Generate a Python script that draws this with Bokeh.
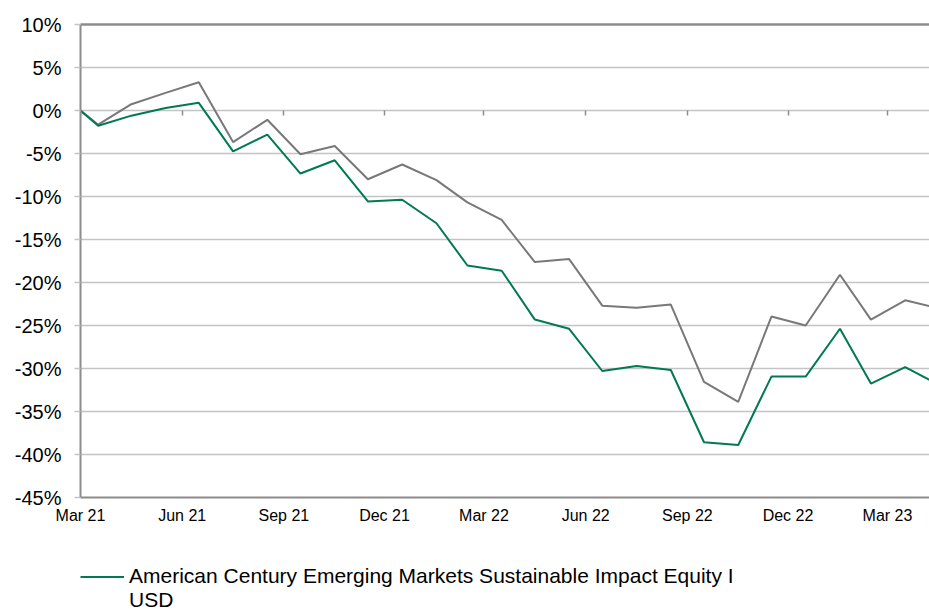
import pandas as pd
from bokeh.plotting import figure
from bokeh.layouts import column
from bokeh.models import (FixedTicker, PrintfTickFormatter,
                          Legend, LegendItem, LinearAxis, DatetimeAxis, Range1d,
                          ColumnDataSource)
from bokeh.embed import file_html
from bokeh.resources import INLINE

# ---------------- data ----------------
dates = ["2021-03-15", "2021-03-31", "2021-04-30", "2021-05-31", "2021-06-30",
         "2021-07-31", "2021-08-31", "2021-09-30", "2021-10-31", "2021-11-30",
         "2021-12-31", "2022-01-31", "2022-02-28", "2022-03-31", "2022-04-30",
         "2022-05-31", "2022-06-30", "2022-07-31", "2022-08-31", "2022-09-30",
         "2022-10-31", "2022-11-30", "2022-12-31", "2023-01-31", "2023-02-28",
         "2023-03-31", "2023-04-30"]
fund = [0.0, -1.77, -0.6, 0.3, 0.89, -4.75, -2.81, -7.33, -5.79, -10.57,
        -10.38, -13.11, -18.02, -18.63, -24.31, -25.38, -30.29, -29.71, -30.17,
        -38.58, -38.89, -30.94, -30.94, -25.38, -31.75, -29.83, -31.86]
benchmark = [0.0, -1.65, 0.73, 2.05, 3.28, -3.67, -1.08, -5.09, -4.13, -7.99,
             -6.28, -8.10, -10.68, -12.73, -17.63, -17.28, -22.69, -22.95, -22.57,
             -31.56, -33.88, -23.96, -25.0, -19.10, -24.31, -22.07, -23.0]
fund_label_lines = ["American Century Emerging Markets Sustainable Impact Equity I",
                    "USD"]
tick_dates = ["2021-03-15", "2021-06-15", "2021-09-15", "2021-12-15", "2022-03-15",
              "2022-06-15", "2022-09-15", "2022-12-15", "2023-03-15"]
tick_labels = ["Mar 21", "Jun 21", "Sep 21", "Dec 21", "Mar 22",
               "Jun 22", "Sep 22", "Dec 22", "Mar 23"]
y_ticks = [-45, -40, -35, -30, -25, -20, -15, -10, -5, 0, 5, 10]

# ---------------- styling ----------------
FONT = "Liberation Sans"
GREEN = "#007a4e"
GRAY = "#787878"
AXIS = "#8c8c8c"
GRID = "#c4c4c4"

xs = pd.to_datetime(dates)
src = ColumnDataSource(dict(x=xs, fund=fund, bench=benchmark))
tick_ms = [pd.Timestamp(d).value / 1e6 for d in tick_dates]

x_start = pd.Timestamp(dates[0])
x_end = x_start + pd.Timedelta(days=768)

p = figure(width=929, height=541, x_axis_type="datetime",
           x_range=Range1d(x_start, x_end), y_range=Range1d(-45, 10),
           output_backend="svg", toolbar_location=None,
           min_border_left=80, min_border_top=24, min_border_right=0,
           min_border_bottom=44)
p.outline_line_color = None
p.background_fill_color = "white"

# grid
p.xgrid.grid_line_color = None
p.ygrid.grid_line_color = GRID
p.ygrid.grid_line_width = 1.5
p.ygrid.ticker = FixedTicker(ticks=y_ticks)

# y axis
ya = p.yaxis[0]
ya.ticker = FixedTicker(ticks=y_ticks)
ya.formatter = PrintfTickFormatter(format="%d%%")
ya.axis_line_color = AXIS
ya.axis_line_width = 2
ya.major_tick_line_color = GRID
ya.major_tick_line_width = 1.5
ya.major_tick_out = 6
ya.major_tick_in = 0
ya.minor_tick_line_color = None
ya.major_label_text_font = FONT
ya.major_label_text_font_size = "20px"
ya.major_label_text_color = "#000000"
ya.major_label_standoff = 13

# x axis (labels at bottom)
xa = p.xaxis[0]
xa.ticker = FixedTicker(ticks=tick_ms)
xa.major_label_overrides = {t: l for t, l in zip(tick_ms, tick_labels)}
xa.axis_line_color = AXIS
xa.axis_line_width = 2
xa.major_tick_line_color = None
xa.major_tick_out = 0
xa.major_tick_in = 0
xa.minor_tick_line_color = None
xa.major_label_text_font = FONT
xa.major_label_text_font_size = "16px"
xa.major_label_text_color = "#000000"
xa.major_label_standoff = 9

# tick marks along the 0% line
zaxis = DatetimeAxis(fixed_location=0, ticker=FixedTicker(ticks=tick_ms),
                     axis_line_color=None, major_tick_in=0, major_tick_out=5,
                     major_tick_line_color=AXIS, major_tick_line_width=1.5,
                     minor_tick_line_color=None,
                     major_label_text_font_size="0px", major_label_standoff=0)
p.add_layout(zaxis, "below")

# top border (no ticks, no labels)
top = LinearAxis(ticker=FixedTicker(ticks=[]), axis_line_color=AXIS,
                 axis_line_width=2.5, major_tick_line_color=None,
                 minor_tick_line_color=None, major_label_standoff=0,
                 major_tick_out=0, major_tick_in=0)
p.add_layout(top, "above")

# lines
rb = p.line("x", "bench", source=src, line_color=GRAY, line_width=2)
rf = p.line("x", "fund", source=src, line_color=GREEN, line_width=2)

# ---------------- legend strip ----------------
lg = figure(width=929, height=69, output_backend="svg", toolbar_location=None,
            x_range=Range1d(0, 1), y_range=Range1d(0, 1),
            x_axis_location=None, y_axis_location=None,
            min_border=0)
lg.outline_line_color = None
lg.grid.grid_line_color = None
proxy = ColumnDataSource(dict(x=[float("nan")], y=[float("nan")]))
sw1 = lg.line("x", "y", source=proxy, line_color=GREEN, line_width=2)
sw2 = lg.line("x", "y", source=proxy, line_color=GREEN, line_width=2, line_alpha=0)

legend = Legend(items=[LegendItem(label=fund_label_lines[0], renderers=[sw1]),
                       LegendItem(label=fund_label_lines[1], renderers=[sw2])],
                location=(0, -2), orientation="vertical",
                border_line_color=None, background_fill_alpha=0,
                label_text_font=FONT, label_text_font_size="21px",
                label_text_color="#000000", label_standoff=5,
                glyph_width=44, glyph_height=23, label_height=23,
                padding=0, margin=0, spacing=0, label_text_line_height=1.0)
lg.add_layout(legend, "center")

layout = column(p, lg, spacing=0)
open("out.html", "w").write(file_html(layout, INLINE))
